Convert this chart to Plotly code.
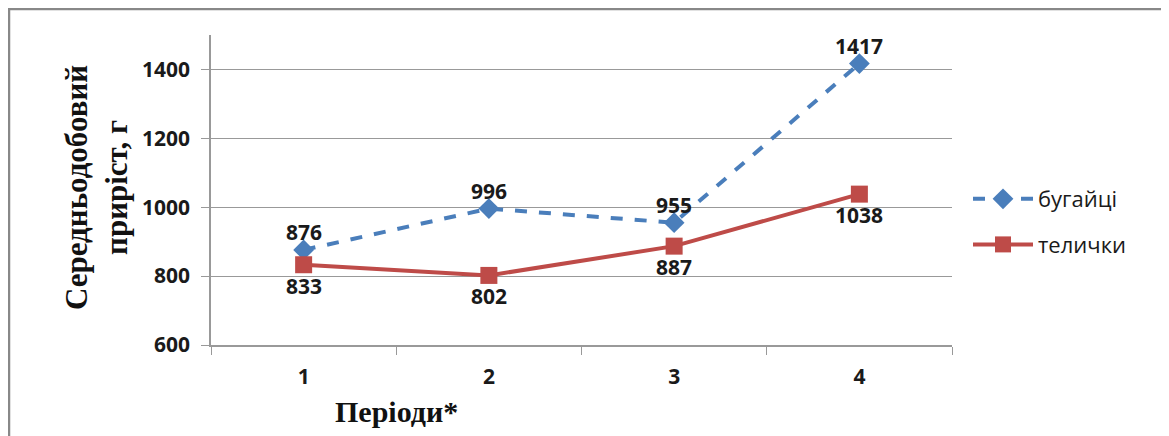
import plotly.graph_objects as go

periods = ["1", "2", "3", "4"]
bulls = [876, 996, 955, 1417]
heifers = [833, 802, 887, 1038]
series_names = ["бугайці", "телички"]
y_title = "Середньодобовий<br>приріст, г"
x_title = "Періоди*"

OFF = 8  # browser body margin
W, H = 1169 - OFF, 436 - OFF
L, R, T, B = 211 - OFF, 952 - OFF, 35 - OFF, 345 - OFF
pw, ph = R - L, B - T

def px(x):
    return (x - OFF - L) / pw

def py(y):
    return (B - (y - OFF)) / ph

lab_font = dict(family="Open Sans", size=21, color="#1a1a1a", weight="bold")

fig = go.Figure()
fig.add_trace(go.Scatter(
    x=periods, y=bulls, name=series_names[0], mode="lines+markers",
    legendgroup="a", cliponaxis=False,
    line=dict(color="#4A7EBB", width=4, dash="dash"),
    marker=dict(symbol="diamond", size=16, color="#4A7EBB"),
))
fig.add_trace(go.Scatter(
    x=periods, y=heifers, name=series_names[1], mode="lines+markers",
    legendgroup="b", cliponaxis=False,
    line=dict(color="#BE4B48", width=4),
    marker=dict(symbol="square", size=17, color="#BE4B48"),
))

annotations = []
# category axis: annotation x is the category index
for i, v in enumerate(bulls):
    annotations.append(dict(x=i, y=v, text=str(v), showarrow=False, yshift=18,
                            font=lab_font, xanchor="center", yanchor="middle"))
for i, v in enumerate(heifers):
    annotations.append(dict(x=i, y=v, text=str(v), showarrow=False, yshift=-21,
                            font=lab_font, xanchor="center", yanchor="middle"))

annotations += [
    dict(text=y_title, xref="paper", yref="paper",
         x=px(96), y=py(188), textangle=-90, showarrow=False,
         font=dict(family="Liberation Serif", size=31, color="#111", weight="bold"),
         xanchor="center", yanchor="middle"),
    dict(text=x_title, xref="paper", yref="paper",
         x=px(396), y=py(411), showarrow=False,
         font=dict(family="Liberation Serif", size=30, color="#111", weight="bold"),
         xanchor="center", yanchor="middle"),
]

fig.update_layout(
    width=W, height=H,
    margin=dict(l=L, r=W - R, t=T, b=H - B),
    paper_bgcolor="white", plot_bgcolor="white",
    showlegend=True,
    legend=dict(x=px(968), y=py(178), xanchor="left", yanchor="top",
                font=dict(family="Open Sans", size=22, color="#1a1a1a"),
                tracegroupgap=14, itemwidth=60),
    xaxis=dict(type="category", range=[-0.5, 3.5], showgrid=False,
               showline=True, linecolor="#999", linewidth=1.5,
               ticks="outside", tickson="boundaries", ticklen=8, tickcolor="#999",
               ticklabelstandoff=12, tickfont=lab_font),
    yaxis=dict(range=[600, 1500], dtick=200, tick0=600, showgrid=True,
               gridcolor="#999", gridwidth=1.2,
               showline=True, linecolor="#999", linewidth=1.5,
               ticks="outside", ticklen=8, tickcolor="#999",
               ticklabelstandoff=7, tickfont=lab_font, zeroline=False),
    annotations=annotations,
    shapes=[dict(type="rect", xref="paper", yref="paper",
                 x0=px(9), x1=px(1185),
                 y0=py(460), y1=py(9),
                 line=dict(color="#888", width=2.5))],
)

fig.write_html("out.html")
